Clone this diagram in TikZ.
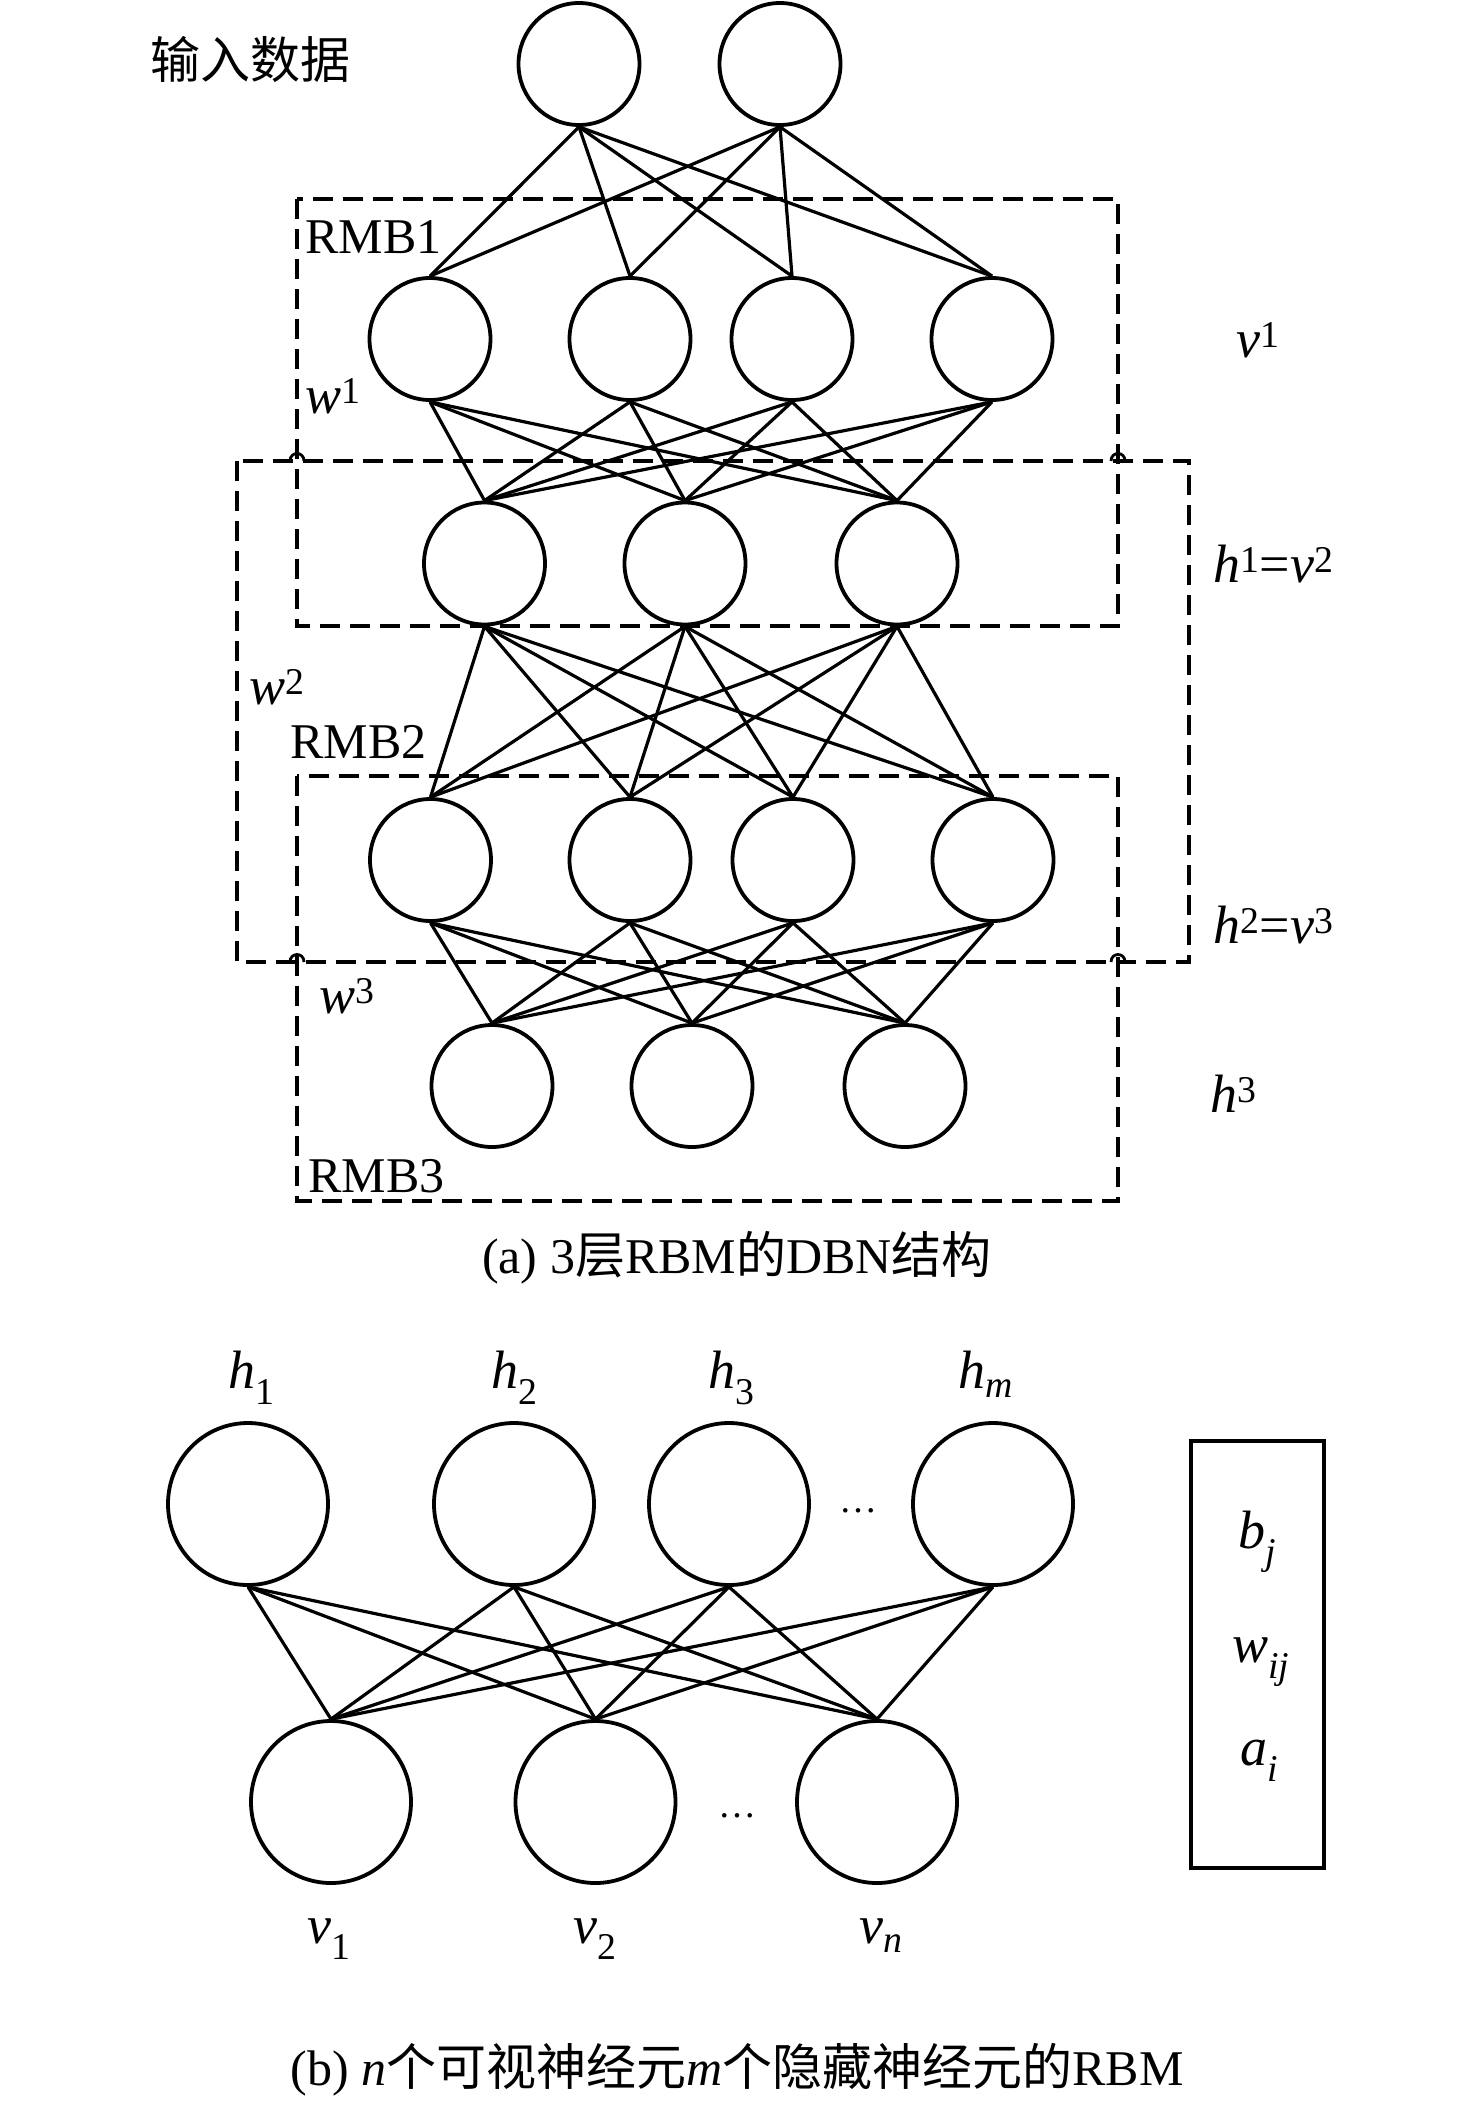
\documentclass[tikz,border=0pt]{standalone}
\usepackage{fontspec}
\setmainfont{Liberation Serif}
\newfontfamily\cjk{Noto Sans CJK SC}
\usetikzlibrary{shapes.geometric}
\begin{document}
\begin{tikzpicture}[x=1pt, y=-1pt,
  neuron/.style={draw, ellipse, line width=3.8pt, minimum width=121pt, minimum height=122pt, inner sep=0pt},
  bigneuron/.style={draw, ellipse, line width=3.8pt, minimum width=160pt, minimum height=162pt, inner sep=0pt},
  link/.style={line width=3.2pt},
  dbox/.style={line width=3.4pt, dash pattern=on 20pt off 10pt},
  jumpmark/.style={line width=2.8pt},
  lbl/.style={font=\fontsize{54}{60}\selectfont, inner sep=0pt, anchor=base west},
  rmb/.style={font=\fontsize{50}{56}\selectfont, inner sep=0pt, anchor=base west},
  captext/.style={font=\fontsize{50}{56}\selectfont, inner sep=0pt, anchor=base},
  dotstext/.style={font=\fontsize{38}{44}\selectfont, inner sep=0pt, anchor=base}
]
\useasboundingbox (0,0) rectangle (1476,2102);

% ---------- (a) DBN ----------
\node[neuron] (i1) at (579,64) {};
\node[neuron] (i2) at (780,64) {};

\node[neuron] (a1) at (430,339) {};
\node[neuron] (a2) at (630,339) {};
\node[neuron] (a3) at (792,339) {};
\node[neuron] (a4) at (992,339) {};

\node[neuron] (b1) at (484.5,563.5) {};
\node[neuron] (b2) at (685,563.5) {};
\node[neuron] (b3) at (897,563.5) {};

\node[neuron] (c1) at (430.5,860) {};
\node[neuron] (c2) at (630,860) {};
\node[neuron] (c3) at (793,860) {};
\node[neuron] (c4) at (993,860) {};

\node[neuron] (d1) at (492,1086) {};
\node[neuron] (d2) at (692,1086) {};
\node[neuron] (d3) at (905,1086) {};

\foreach \u in {i1,i2}{\foreach \l in {a1,a2,a3,a4}{\draw[link] (\u.south) -- (\l.north);}}
\foreach \u in {a1,a2,a3,a4}{\foreach \l in {b1,b2,b3}{\draw[link] (\u.south) -- (\l.north);}}
\foreach \u in {b1,b2,b3}{\foreach \l in {c1,c2,c3,c4}{\draw[link] (\u.south) -- (\l.north);}}
\foreach \u in {c1,c2,c3,c4}{\foreach \l in {d1,d2,d3}{\draw[link] (\u.south) -- (\l.north);}}

% dashed boxes
\draw[dbox] (297,199) rectangle (1118,626);
\draw[dbox] (237,461) rectangle (1189,962);
\draw[dbox] (297,776) rectangle (1118,1201);

% line-jump marks
\foreach \px/\py in {297/461, 1118/461, 297/962, 1118/962}{
  \draw[jumpmark] (\px-7,\py) .. controls (\px-7,\py-10) and (\px+7,\py-10) .. (\px+7,\py);
}

% labels
\node[font=\fontsize{50}{56}\selectfont, inner sep=0pt, anchor=base west] (tin) at (150,78) {\cjk 输入数据};
\node[rmb] (r1) at (305,253) {RMB1};
\node[rmb] (r2) at (290,758) {RMB2};
\node[rmb] (r3) at (308,1192) {RMB3};
\node[lbl] (w1) at (305,413) {\textit{w}\textsuperscript{1}};
\node[lbl] (w2) at (249,704) {\textit{w}\textsuperscript{2}};
\node[lbl] (w3) at (319,1013) {\textit{w}\textsuperscript{3}};
\node[lbl] (lv1) at (1236,357) {\textit{v}\textsuperscript{1}};
\node[lbl] (lh1) at (1213,582) {\textit{h}\textsuperscript{1}=\textit{v}\textsuperscript{2}};
\node[lbl] (lh2) at (1213,943) {\textit{h}\textsuperscript{2}=\textit{v}\textsuperscript{3}};
\node[lbl] (lh3) at (1210,1112) {\textit{h}\textsuperscript{3}};
\node[captext] (capa) at (737,1273) {(a) 3{\cjk 层}RBM{\cjk 的}DBN{\cjk 结构}};

% ---------- (b) RBM ----------
\node[bigneuron] (H1) at (248,1504) {};
\node[bigneuron] (H2) at (514,1504) {};
\node[bigneuron] (H3) at (729,1504) {};
\node[bigneuron] (H4) at (993,1504) {};

\node[bigneuron] (V1) at (331,1802) {};
\node[bigneuron] (V2) at (595.5,1802) {};
\node[bigneuron] (V3) at (877,1802) {};

\foreach \u in {H1,H2,H3,H4}{\foreach \l in {V1,V2,V3}{\draw[link] (\u.south) -- (\l.north);}}

\node[dotstext] (dt) at (858,1512) {\ldots};
\node[dotstext] (db) at (737,1817) {\ldots};

\node[lbl] (lh1b) at (228,1388) {\textit{h}\textsubscript{1}};
\node[lbl] (lh2b) at (491,1388) {\textit{h}\textsubscript{2}};
\node[lbl] (lh3b) at (708,1388) {\textit{h}\textsubscript{3}};
\node[lbl] (lhmb) at (958,1388) {\textit{h}\textsubscript{\textit{m}}};

\node[lbl] (lv1b) at (307,1943) {\textit{v}\textsubscript{1}};
\node[lbl] (lv2b) at (573,1943) {\textit{v}\textsubscript{2}};
\node[lbl] (lvnb) at (859,1943) {\textit{v}\textsubscript{\textit{n}}};

\draw[line width=3.4pt] (1191,1441) rectangle (1324,1868);
\node[lbl] (bj) at (1238,1548) {\textit{b}\textsubscript{\textit{j}}};
\node[lbl] (wij) at (1232,1662) {\textit{w}\textsubscript{\textit{ij}}};
\node[lbl] (ai) at (1240,1765) {\textit{a}\textsubscript{\textit{i}}};

\node[captext] (capb) at (737,2085) {(b) \textit{n}{\cjk 个可视神经元}\textit{m}{\cjk 个隐藏神经元的}RBM};
\end{tikzpicture}
\end{document}
